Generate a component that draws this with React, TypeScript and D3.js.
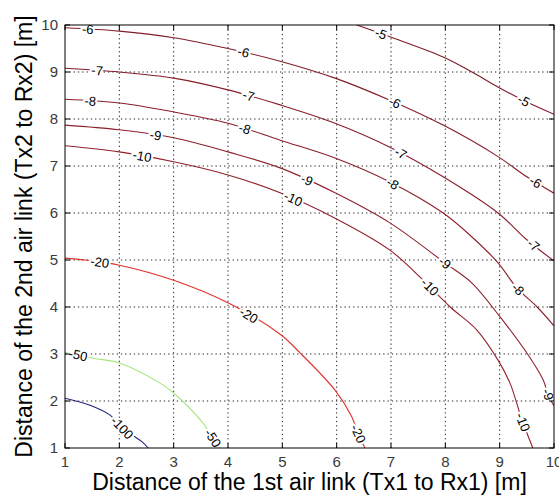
import React from 'react';
import * as d3 from 'd3';

// contour levels and the points (x = 1st link, y = 2nd link, metres)
const levels = [-5, -6, -7, -8, -9, -10, -20, -50, -100];
const xTicks = [1, 2, 3, 4, 5, 6, 7, 8, 9, 10];
const yTicks = [1, 2, 3, 4, 5, 6, 7, 8, 9, 10];

const c5: [number, number][] = [[6.37, 10], [6.98, 9.75], [7.96, 9.32], [8.49, 9.0], [9.0, 8.66], [9.5, 8.36], [10, 8.1]];
const c6: [number, number][] = [[1, 9.94], [2, 9.87], [3, 9.73], [4, 9.5], [4.96, 9.23], [5.97, 8.87], [6.98, 8.4], [7.96, 7.87], [8.97, 7.2], [9.5, 6.77], [10, 6.42]];
const c7: [number, number][] = [[1, 9.08], [2, 9.0], [3, 8.87], [4, 8.62], [4.96, 8.3], [5.97, 7.91], [6.98, 7.4], [7.96, 6.77], [8.97, 6.0], [9.5, 5.43], [10, 4.98]];
const c8: [number, number][] = [[1, 8.42], [2, 8.34], [3, 8.15], [4, 7.91], [4.96, 7.55], [5.97, 7.17], [6.98, 6.66], [7.96, 6.0], [8.49, 5.49], [8.97, 4.94], [9.32, 4.4], [9.69, 4.0], [10, 3.6]];
const c9: [number, number][] = [[1, 7.87], [2, 7.77], [3, 7.6], [4, 7.3], [4.96, 6.96], [5.97, 6.43], [6.98, 5.79], [7.99, 4.94], [8.49, 4.51], [9.0, 3.8], [9.5, 3.02], [9.8, 2.45], [9.9, 2.1], [10, 1.9]];
const c10: [number, number][] = [[1, 7.43], [2, 7.3], [3, 7.09], [4, 6.81], [4.96, 6.43], [5.97, 5.89], [6.98, 5.21], [7.53, 4.64], [8.09, 4.0], [8.58, 3.51], [8.97, 2.87], [9.19, 2.38], [9.41, 1.6], [9.61, 1.0]];
const c20: [number, number][] = [[1, 5.04], [1.37, 5.0], [2, 4.89], [3, 4.57], [4, 4.09], [4.96, 3.42], [5.33, 3.02], [5.97, 2.23], [6.28, 1.66], [6.39, 1.32], [6.52, 1.0]];
const c50: [number, number][] = [[1, 3.04], [1.52, 2.91], [2, 2.81], [2.75, 2.38], [3, 2.17], [3.54, 1.53], [3.72, 1.21], [3.85, 1.0]];
const c100: [number, number][] = [[1, 2.06], [1.46, 1.91], [1.83, 1.7], [2.05, 1.43], [2.42, 1.13], [2.53, 1.0]];

// where the inline labels sit on each curve
const l5: [number, number][] = [[6.8, 9.77], [9.43, 8.36]];
const l6: [number, number][] = [[1.42, 9.9], [4.28, 9.4], [7.07, 8.35], [9.65, 6.64]];
const l7: [number, number][] = [[1.59, 9.0], [4.37, 8.45], [7.17, 7.25], [9.61, 5.3]];
const l8: [number, number][] = [[1.46, 8.3], [4.31, 7.8], [7.02, 6.6], [9.32, 4.36]];
const l9: [number, number][] = [[2.66, 7.6], [5.45, 6.7], [7.99, 4.94], [9.87, 2.13]];
const l10: [number, number][] = [[2.41, 7.15], [5.2, 6.3], [7.72, 4.43], [9.43, 1.55]];
const l20: [number, number][] = [[1.64, 4.95], [4.37, 3.8], [6.39, 1.3]];
const l50: [number, number][] = [[1.24, 2.97], [3.72, 1.21]];
const l100: [number, number][] = [[2.05, 1.43]];

const curves = [c5, c6, c7, c8, c9, c10, c20, c50, c100];
const labelSpots = [l5, l6, l7, l8, l9, l10, l20, l50, l100];

const lineColor: Record<number, string> = {
  [-5]: '#7e1c26', [-6]: '#821d28', [-7]: '#861e2a', [-8]: '#8a1f2b', [-9]: '#8e202c', [-10]: '#92212d',
  [-20]: '#e0302a', [-50]: '#a6e67e', [-100]: '#24247e',
};

const W = 559;
const H = 504;
const FONT = '"Liberation Sans", Arial, sans-serif';

const x = d3.scaleLinear().domain([1, 10]).range([65, 554]);
const y = d3.scaleLinear().domain([1, 10]).range([448, 25]);

const line = d3.line<[number, number]>()
  .x(d => x(d[0]))
  .y(d => y(d[1]))
  .curve(d3.curveCatmullRom.alpha(0.5));

// snap a label to the nearest segment of its curve and take that segment's angle
function placeLabel(pts: [number, number][], spot: [number, number]) {
  const px = x(spot[0]);
  const py = y(spot[1]);
  let best = { d: Infinity, lx: px, ly: py, ang: 0 };
  for (let i = 0; i < pts.length - 1; i++) {
    const ax = x(pts[i][0]), ay = y(pts[i][1]);
    const bx = x(pts[i + 1][0]), by = y(pts[i + 1][1]);
    const dx = bx - ax, dy = by - ay;
    const t = Math.max(0, Math.min(1, ((px - ax) * dx + (py - ay) * dy) / (dx * dx + dy * dy)));
    const qx = ax + t * dx, qy = ay + t * dy;
    const d = Math.hypot(px - qx, py - qy);
    if (d < best.d) {
      let ang = (Math.atan2(dy, dx) * 180) / Math.PI;
      if (ang > 90) ang -= 180;
      if (ang <= -90) ang += 180;
      best = { d, lx: qx, ly: qy, ang };
    }
  }
  return best;
}

export default function App() {
  const [x0, x1] = x.range();
  const [y0, y1] = y.range();

  return (
    <svg width={W} height={H} style={{ position: 'absolute', left: 0, top: 0, background: '#fff' }}>
      <defs>
        <clipPath id="plot">
          <rect x={x0} y={y1} width={x1 - x0} height={y0 - y1} />
        </clipPath>
      </defs>

      {/* dotted grid */}
      <g stroke="#222" strokeWidth={1} strokeDasharray="1.3,3">
        {xTicks.slice(1, -1).map(t => (
          <line key={'gx' + t} x1={x(t)} x2={x(t)} y1={y0} y2={y1} />
        ))}
        {yTicks.slice(1, -1).map(t => (
          <line key={'gy' + t} x1={x0} x2={x1} y1={y(t)} y2={y(t)} />
        ))}
      </g>

      {/* contour lines */}
      <g clipPath="url(#plot)" fill="none" strokeWidth={1.1}>
        {curves.map((pts, i) => (
          <path key={'c' + i} d={line(pts) ?? ''} stroke={lineColor[levels[i]]} />
        ))}
      </g>

      {/* inline contour labels */}
      <g fontFamily={FONT} fontSize={13} fill="#000">
        {labelSpots.map((spots, i) =>
          spots.map((s, j) => {
            const p = placeLabel(curves[i], s);
            return (
              <text
                key={'lb' + i + '-' + j}
                transform={`translate(${p.lx},${p.ly}) rotate(${p.ang})`}
                textAnchor="middle"
                dy="0.35em"
                stroke="#fff"
                strokeWidth={4}
                paintOrder="stroke"
              >
                {levels[i]}
              </text>
            );
          })
        )}
      </g>

      {/* axes box and inward ticks */}
      <rect x={x0} y={y1} width={x1 - x0} height={y0 - y1} fill="none" stroke="#000" strokeWidth={1} />
      <g stroke="#000" strokeWidth={1}>
        {xTicks.map(t => (
          <g key={'tx' + t}>
            <line x1={x(t)} x2={x(t)} y1={y0} y2={y0 - 5} />
            <line x1={x(t)} x2={x(t)} y1={y1} y2={y1 + 5} />
          </g>
        ))}
        {yTicks.map(t => (
          <g key={'ty' + t}>
            <line x1={x0} x2={x0 + 5} y1={y(t)} y2={y(t)} />
            <line x1={x1} x2={x1 - 5} y1={y(t)} y2={y(t)} />
          </g>
        ))}
      </g>

      {/* tick labels */}
      <g fontFamily={FONT} fontSize={15} fill="#3a3a3a">
        {xTicks.map(t => (
          <text key={'xl' + t} x={x(t)} y={y0 + 19} textAnchor="middle">
            {t}
          </text>
        ))}
        {yTicks.map(t => (
          <text key={'yl' + t} x={x0 - 7} y={y(t)} dy="0.35em" textAnchor="end">
            {t}
          </text>
        ))}
      </g>

      {/* axis titles */}
      <text x={(x0 + x1) / 2} y={490} textAnchor="middle" fontFamily={FONT} fontSize={23} fill="#000">
        Distance of the 1st air link (Tx1 to Rx1) [m]
      </text>
      <text
        transform={`translate(32,${(y0 + y1) / 2}) rotate(-90)`}
        textAnchor="middle"
        fontFamily={FONT}
        fontSize={23}
        fill="#000"
      >
        Distance of the 2nd air link (Tx2 to Rx2) [m]
      </text>
    </svg>
  );
}
